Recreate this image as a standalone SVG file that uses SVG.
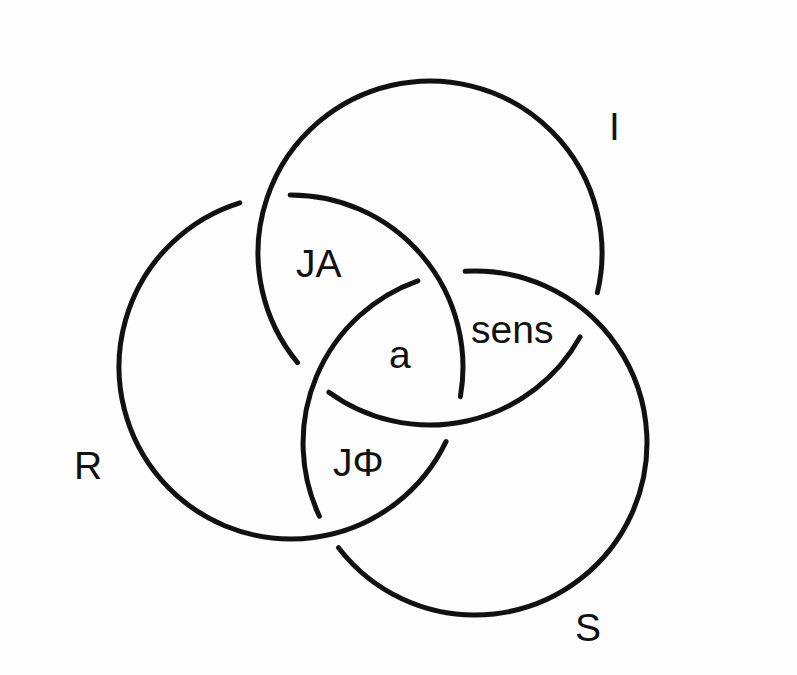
<svg xmlns="http://www.w3.org/2000/svg" width="797" height="675" viewBox="0 0 797 675">
  <style>
    .ring { fill: none; stroke: #111; stroke-width: 5; stroke-linecap: round; }
    .lbl { font-family: "Liberation Sans", Arial, sans-serif; font-size: 39px; fill: #111; }
  </style>
  <rect width="797" height="675" fill="#fdfdfd"/>
  <g id="ring-I">
    <path class="ring" d="M297.5,362.6 A172,172 0 1 1 597.4,292.6"/>
    <path class="ring" d="M580.1,336.9 A172,172 0 0 1 328.9,392.2"/>
    <text class="lbl" x="609" y="140">I</text>
  </g>
  <g id="ring-R">
    <path class="ring" d="M239.8,202.8 A172,172 0 1 0 446.0,441.6"/>
    <path class="ring" d="M460.4,396.6 A172,172 0 0 0 290.1,195.0"/>
    <text class="lbl" x="74" y="479">R</text>
  </g>
  <g id="ring-S">
    <path class="ring" d="M465.1,271.3 A172,172 0 1 1 338.5,547.7"/>
    <path class="ring" d="M319.4,516.2 A172,172 0 0 1 417.9,280.8"/>
    <text class="lbl" x="575" y="641">S</text>
  </g>
  <g id="regions">
    <text class="lbl" x="296" y="277">JA</text>
    <text class="lbl" x="471" y="343">sens</text>
    <text class="lbl" x="389" y="368">a</text>
    <text class="lbl" x="333" y="476">JΦ</text>
  </g>
</svg>
